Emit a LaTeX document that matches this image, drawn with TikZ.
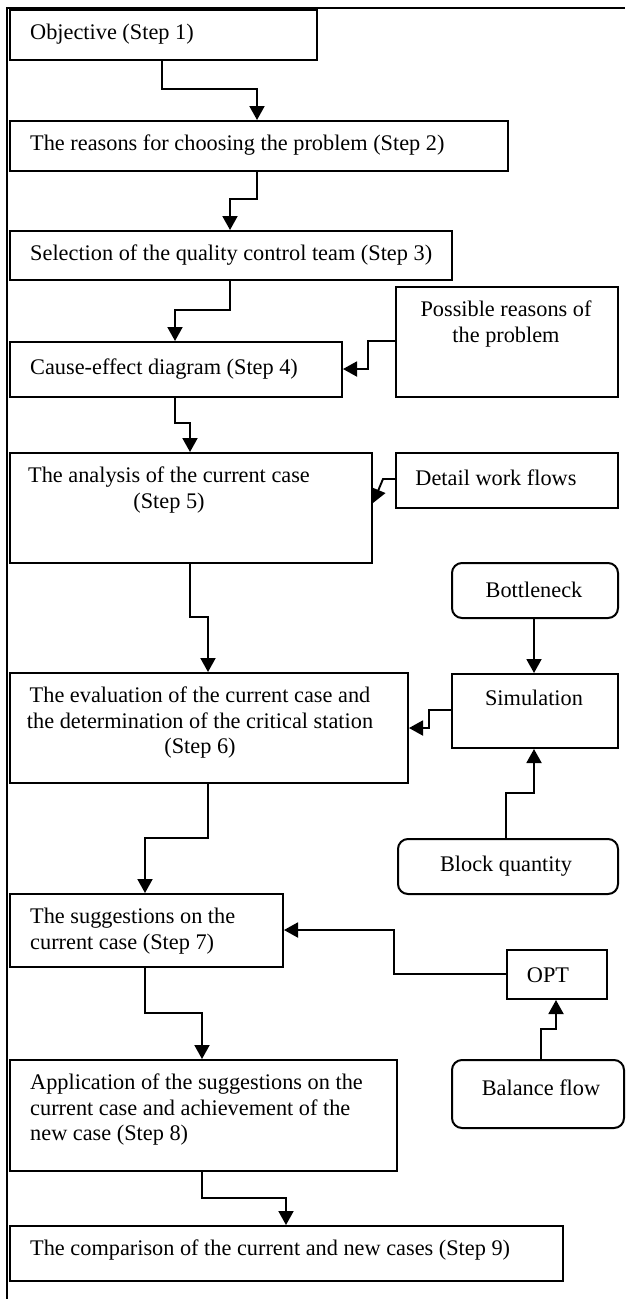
\documentclass[tikz,border=0pt]{standalone}
\usepackage{fontspec}
\setmainfont{Liberation Serif}
\usetikzlibrary{arrows.meta}
\tikzset{
  boxshape/.style={draw, line width=2pt, inner sep=0pt, anchor=north west},
  roundshape/.style={boxshape, rounded corners=10pt},
  txt/.style={inner sep=0pt, font=\fontsize{22.3}{25.5}\selectfont},
  arr/.style={line width=1.9pt, -{Triangle[length=14pt,width=15pt]}},
  framebar/.style={line width=2.2pt}
}
\newcommand{\mkbox}[6]{% style, name, x1, y1, x2, y2
  \node[#1, minimum width={#5-#3}, minimum height={#6-#4}] (#2) at (#3,#4) {};}
\begin{document}
\begin{tikzpicture}[x=1pt,y=-1pt]
\useasboundingbox (0,0) rectangle (625,1299);
\fill[white] (0,0) rectangle (625,1299);
% outer frame (top and left)
\coordinate (fbl) at (7,1299);
\coordinate (ftl) at (7,8);
\coordinate (ftr) at (625,8);
\draw[framebar] (fbl) -- (ftl) -- (ftr);

% boxes
\mkbox{boxshape}{b1}{8.5}{9}{316}{59}
\mkbox{boxshape}{b2}{8.5}{120}{507}{170}
\mkbox{boxshape}{b3}{8.5}{230}{451}{279}
\mkbox{boxshape}{b4}{8.5}{341}{341}{396}
\mkbox{boxshape}{pr}{395}{286}{617}{396}
\mkbox{boxshape}{b5}{8.5}{452}{371}{562}
\mkbox{boxshape}{dw}{395}{452}{617}{507}
\mkbox{roundshape}{bn}{451}{562}{617}{617}
\mkbox{boxshape}{b6}{8.5}{672}{407}{782}
\mkbox{boxshape}{sim}{451}{673}{617}{747}
\mkbox{roundshape}{bq}{397}{838}{617}{893}
\mkbox{boxshape}{b7}{8.5}{893}{282}{966}
\mkbox{boxshape}{opt}{506}{949}{606}{998}
\mkbox{boxshape}{b8}{8.5}{1059}{396}{1170}
\mkbox{roundshape}{bf}{451}{1059}{623}{1127}
\mkbox{boxshape}{b9}{8.5}{1225}{562}{1280}

% texts
\node[txt, anchor=west] (t1) at (30,34) {Objective (Step 1)};
\node[txt, anchor=west] (t2) at (30,145) {The reasons for choosing the problem (Step 2)};
\node[txt, anchor=west] (t3) at (30,255) {Selection of the quality control team (Step 3)};
\node[txt, anchor=west] (t4) at (30,369) {Cause-effect diagram (Step 4)};
\node[txt, align=center] (tpr) at (506,324) {Possible reasons of\\the problem};
\node[txt, align=center] (t5) at (169,490) {The analysis of the current case\\(Step 5)};
\node[txt] (tdw) at (496,478) {Detail work flows};
\node[txt] (tbn) at (534,590) {Bottleneck};
\node[txt, align=center] (t6) at (200,723) {The evaluation of the current case and\\the determination of the critical station\\(Step 6)};
\node[txt] (tsim) at (534,698) {Simulation};
\node[txt] (tbq) at (506,866) {Block quantity};
\node[txt, anchor=west, align=left] (t7) at (30,931) {The suggestions on the\\current case (Step 7)};
\node[txt] (topt) at (548,975) {OPT};
\node[txt, anchor=west, align=left] (t8) at (30,1110) {Application of the suggestions on the\\current case and achievement of the\\new case (Step 8)};
\node[txt] (tbf) at (541,1088) {Balance flow};
\node[txt, anchor=west] (t9) at (30,1250) {The comparison of the current and new cases (Step 9)};

% connectors
\draw[arr] (162,0 |- b1.south) |- (257,89) -- (257,0 |- b2.north);
\draw[arr] (257,0 |- b2.south) |- (230,199) -- (230,0 |- b3.north);
\draw[arr] (230,0 |- b3.south) |- (175,310) -- (175,0 |- b4.north);
\draw[arr] (pr.west |- 0,341) -| (368,369) -- (b4.east |- 0,369);
\draw[arr] (175,0 |- b4.south) |- (190,423) -- (190,0 |- b5.north);
\draw[arr] (dw.west |- 0,479) -- (383,479) -- (b5.east |- 0,503);
\draw[arr] (190,0 |- b5.south) |- (208,617) -- (208,0 |- b6.north);
\draw[arr] (534,0 |- bn.south) -- (534,0 |- sim.north);
\draw[arr] (sim.west |- 0,710) -| (429,728) -- (b6.east |- 0,728);
\draw[arr] (506,0 |- bq.north) |- (534,793) -- (534,0 |- sim.south);
\draw[arr] (208,0 |- b6.south) |- (145,838) -- (145,0 |- b7.north);
\draw[arr] (opt.west |- 0,974) -| (394,930) -- (b7.east |- 0,930);
\draw[arr] (145,0 |- b7.south) |- (202,1013) -- (202,0 |- b8.north);
\draw[arr] (541,0 |- bf.north) |- (556,1029) -- (556,0 |- opt.south);
\draw[arr] (202,0 |- b8.south) |- (286,1198) -- (286,0 |- b9.north);
\end{tikzpicture}
\end{document}
